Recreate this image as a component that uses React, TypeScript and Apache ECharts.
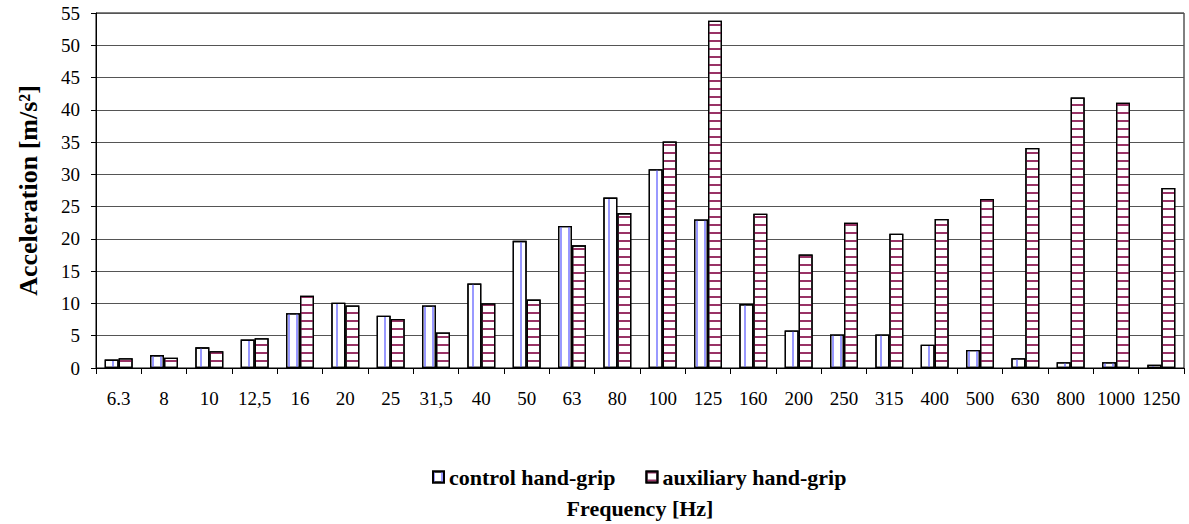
import React, { useEffect, useRef } from "react";
import * as echarts from "echarts";

const categories = ["6.3", "8", "10", "12,5", "16", "20", "25", "31,5", "40", "50", "63", "80", "100", "125", "160", "200", "250", "315", "400", "500", "630", "800", "1000", "1250"];
const controlValues = [1.3, 2.0, 3.2, 4.4, 8.5, 10.1, 8.1, 9.7, 13.1, 19.7, 22.0, 26.4, 30.8, 23.0, 9.9, 5.8, 5.2, 5.2, 3.6, 2.8, 1.5, 0.9, 0.9, 0.5];
const auxiliaryValues = [1.5, 1.6, 2.6, 4.6, 11.2, 9.7, 7.6, 5.5, 10.0, 10.6, 19.0, 24.0, 35.1, 53.8, 23.9, 17.6, 22.5, 20.8, 23.1, 26.2, 34.1, 41.9, 41.1, 27.9];
const seriesNames = ["control hand-grip", "auxiliary hand-grip"];

const SERIF = "Times New Roman, Liberation Serif, DejaVu Serif, serif";

export default function App() {
  const ref = useRef<HTMLDivElement>(null);
  useEffect(() => {
    if (!ref.current) return;
    const chart = echarts.init(ref.current, null, { renderer: "svg" });
    chart.setOption({
      animation: false,
      backgroundColor: "#fff",
      textStyle: { fontFamily: SERIF, color: "#000" },
      grid: { left: 96, right: 5, top: 13, bottom: 156, show: true, borderColor: "#000", borderWidth: 1, backgroundColor: "transparent" },
      legend: {
        left: 427,
        top: 461,
        icon: "rect",
        itemWidth: 11,
        itemHeight: 11,
        itemGap: 30,
        textStyle: { fontFamily: SERIF, fontWeight: "bold", fontSize: 22, color: "#000" },
        data: seriesNames,
      },
      xAxis: {
        type: "category",
        data: categories,
        name: "Frequency [Hz]",
        nameLocation: "middle",
        nameGap: 129,
        nameTextStyle: { fontFamily: SERIF, fontWeight: "bold", fontSize: 22, color: "#000" },
        axisLine: { lineStyle: { color: "#000", width: 1 } },
        axisTick: { show: true, length: 6, lineStyle: { color: "#000" } },
        axisLabel: { fontFamily: SERIF, fontSize: 19, color: "#000", margin: 21, interval: 0 },
      },
      yAxis: {
        type: "value",
        min: 0,
        max: 55,
        interval: 5,
        name: "Acceleration [m/s²]",
        nameLocation: "middle",
        nameGap: 55,
        nameTextStyle: { fontFamily: SERIF, fontWeight: "bold", fontSize: 26, color: "#000" },
        axisLine: { show: true, lineStyle: { color: "#000", width: 1 } },
        axisTick: { show: true, length: 5, lineStyle: { color: "#000" } },
        axisLabel: { fontFamily: SERIF, fontSize: 19, color: "#000", margin: 16 },
        splitLine: { show: true, lineStyle: { color: "#555", width: 1 } },
      },
      series: [
        {
          name: seriesNames[0],
          type: "bar",
          data: controlValues,
          barWidth: 14,
          barGap: "0%",
          itemStyle: {
            color: "#fff",
            borderColor: "#000",
            borderWidth: 1.3,
            decal: {
              symbol: "rect",
              symbolSize: 1,
              color: "#9999ff",
              dashArrayX: [2, 6],
              dashArrayY: [10, 0],
            },
          },
        },
        {
          name: seriesNames[1],
          type: "bar",
          data: auxiliaryValues,
          barWidth: 14,
          itemStyle: {
            color: "#fff",
            borderColor: "#000",
            borderWidth: 1.3,
            decal: {
              symbol: "rect",
              symbolSize: 1,
              color: "#993366",
              dashArrayX: [10, 0],
              dashArrayY: [2, 5.7],
            },
          },
        },
      ],
    });
    return () => chart.dispose();
  }, []);
  return <div ref={ref} style={{ position: "fixed", left: 0, top: 0, width: 1189, height: 524 }} />;
}
